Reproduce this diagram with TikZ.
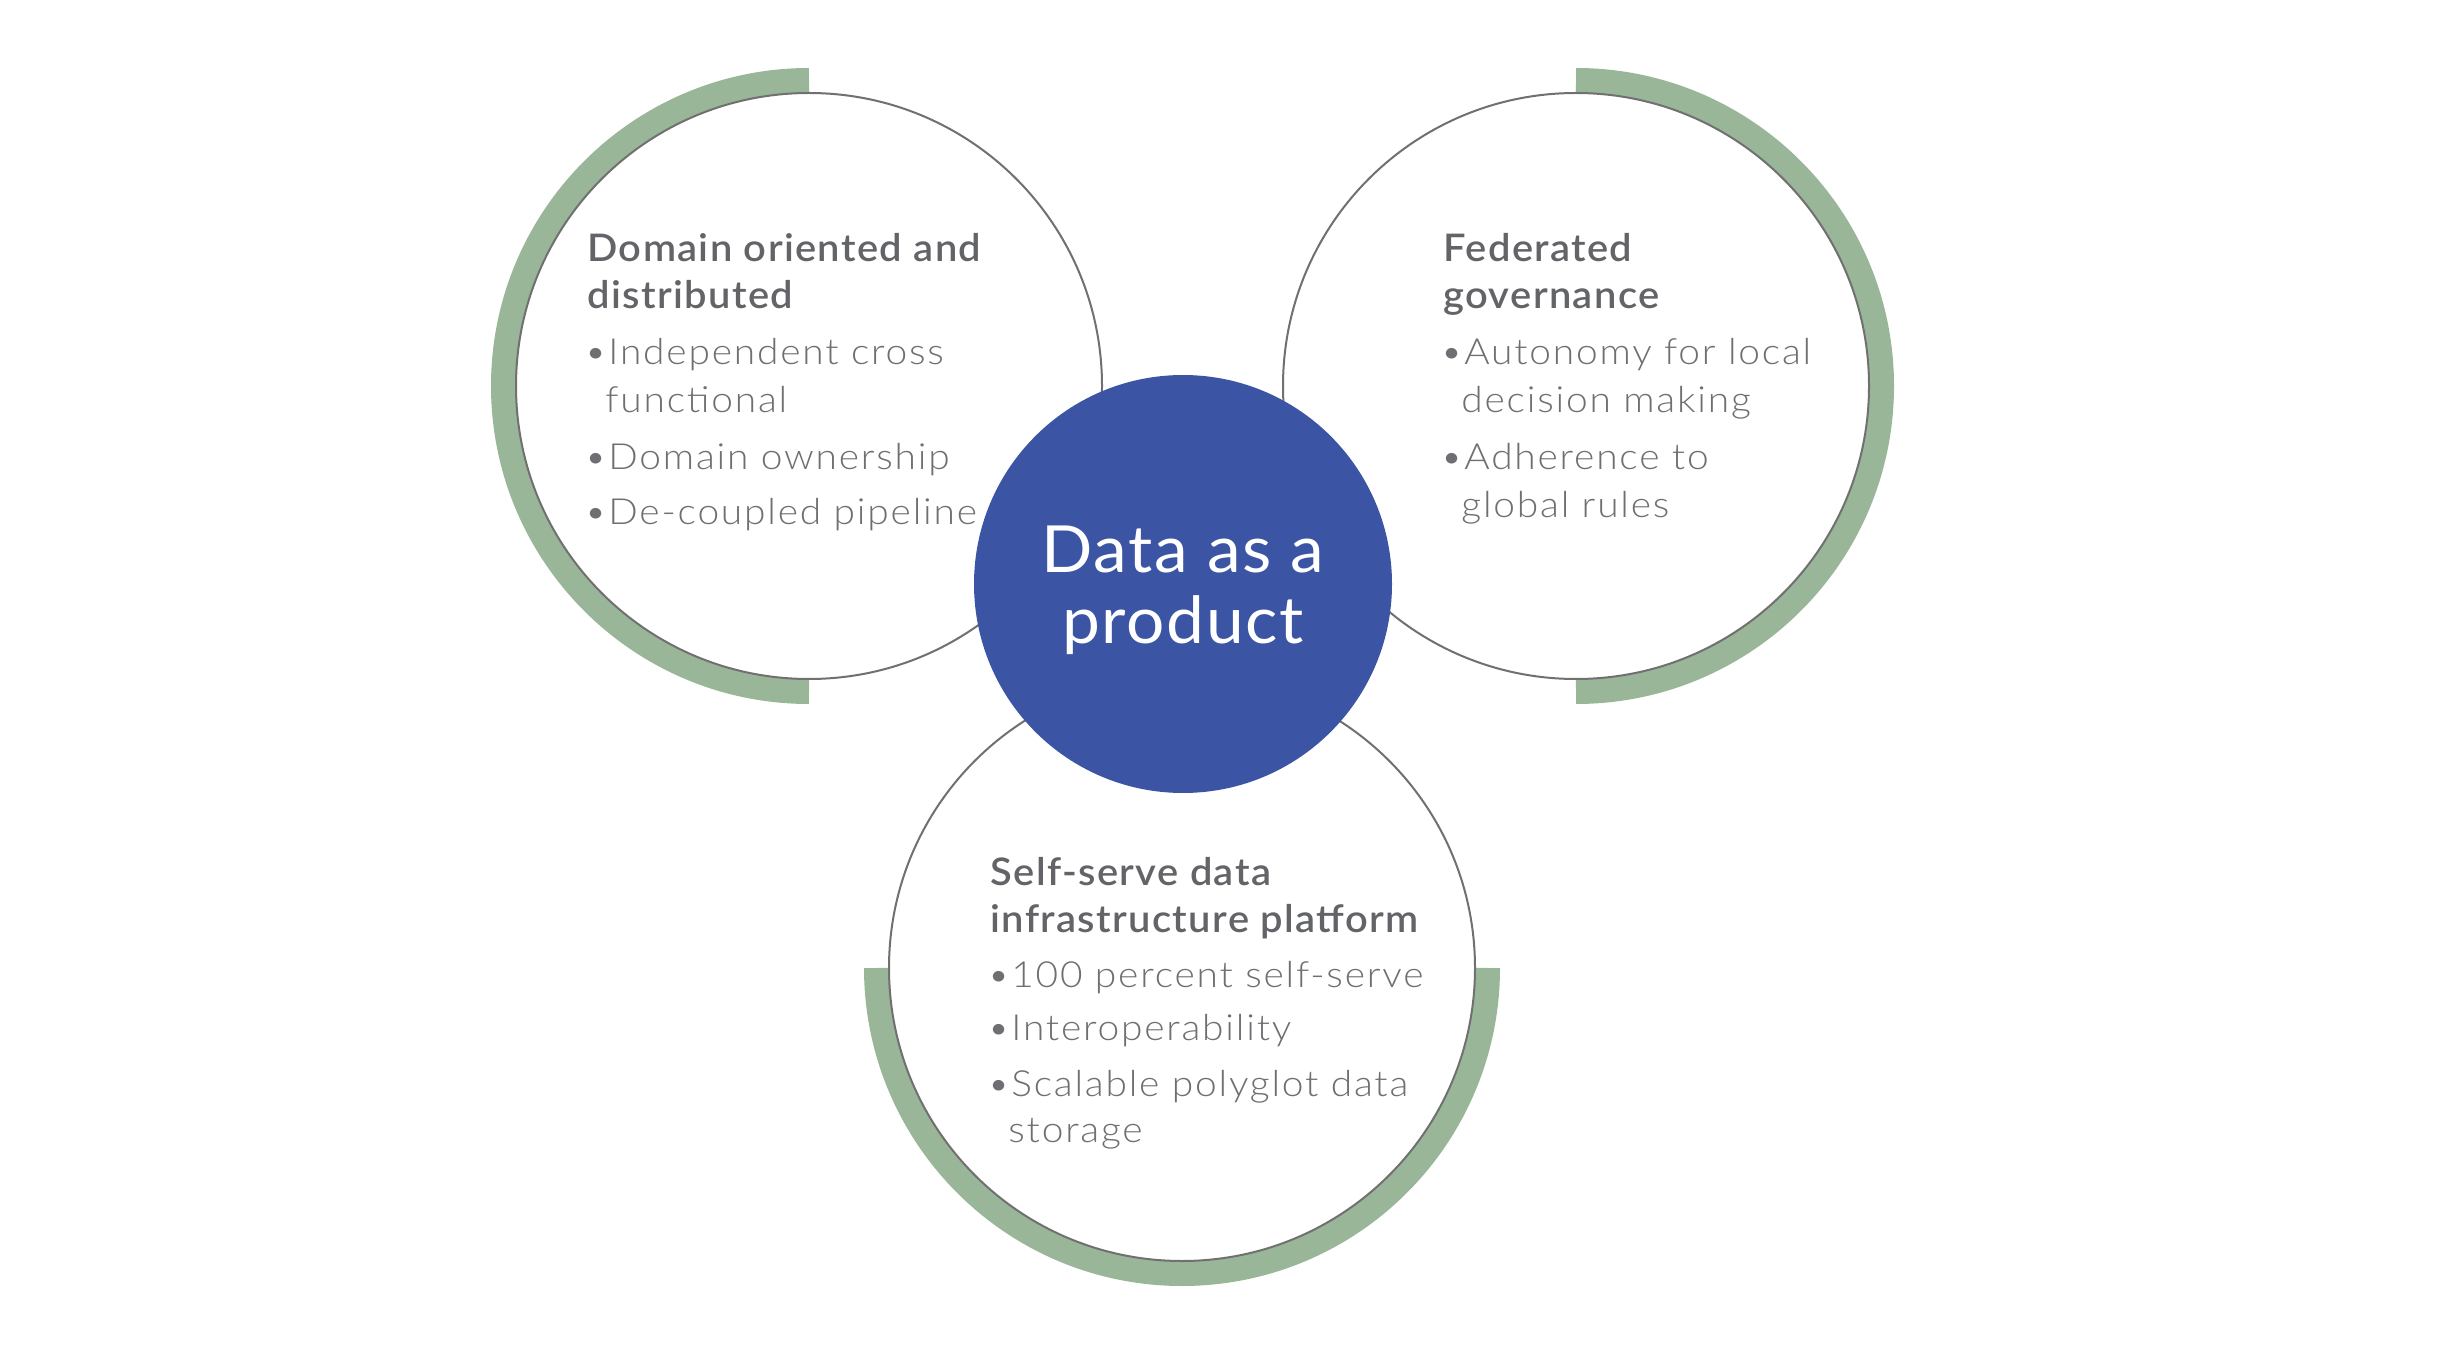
\documentclass[tikz,border=0pt]{standalone}
\usepackage{fontspec}
\setmainfont{Lato}
\newfontfamily\semif{Lato Semibold}[LetterSpace=3.6, FakeStretch=1.05]
\newfontfamily\lightf{Lato Light}[LetterSpace=5, FakeStretch=1.08]
\newfontfamily\regf{Lato}[LetterSpace=2.6, FakeStretch=1.04]
\definecolor{bandgreen}{HTML}{9AB698}
\definecolor{hubblue}{HTML}{3B55A4}
\definecolor{linegray}{HTML}{707070}
\definecolor{headgray}{HTML}{636468}
\definecolor{itemgray}{HTML}{6E6F72}
\newcommand\bul{\makebox[10.5pt][l]{\hspace*{-1.5pt}\textbullet}}
\newcommand\ind{\hspace*{9pt}}
\begin{document}
\begin{tikzpicture}[x=0.5pt,y=-0.5pt,
  ring/.style={circle, draw=linegray, line width=1pt, fill=white, minimum size=293pt, inner sep=0pt},
  band/.style={draw=bandgreen, line width=12.5pt},
  hub/.style={circle, fill=hubblue, minimum size=209pt, inner sep=0pt},
  hubtext/.style={inner sep=0pt, text=white, align=center,
    font=\regf\fontsize{32.5pt}{35.5pt}\selectfont},
  head/.style={anchor=base west, inner sep=0pt, text=headgray, font=\semif\fontsize{19pt}{23.5pt}\selectfont},
  item/.style={anchor=base west, inner sep=0pt, text=itemgray, font=\lightf\fontsize{18pt}{23.5pt}\selectfont}]
\useasboundingbox (0,0) rectangle (2459,1353);
\fill[white] (0,0) rectangle (2459,1353);
% anchor coordinates for the three outer circles
\coordinate (cl) at (809,386);
\coordinate (cr) at (1576,386);
\coordinate (cb) at (1182,968);
% green bands
\draw[band] (cl) ++(90:152.75pt) arc[start angle=90, end angle=270, radius=152.75pt];
\draw[band] (cr) ++(90:152.75pt) arc[start angle=90, end angle=-90, radius=152.75pt];
\draw[band] (cb) ++(180:152.75pt) arc[start angle=180, end angle=360, radius=152.75pt];
% outer circles
\node[ring] (L) at (cl) {};
\node[ring] (R) at (cr) {};
\node[ring] (B) at (cb) {};
% hub
\node[hub] (C) at (1183,584) {};
\node[hubtext] (Ct) at (1183,590) {Data as a\\product};
% left texts
\node[head] (l1) at (587,262) {Domain oriented and};
\node[head] (l2) at (587,309) {distributed};
\node[item] (l3) at (587,365) {\bul Independent cross};
\node[item] (l4) at (587,413) {\ind functional};
\node[item] (l5) at (587,470) {\bul Domain ownership};
\node[item] (l6) at (587,524) {\bul De-coupled pipeline};
% right texts
\node[head] (r1) at (1443,262) {Federated};
\node[head] (r2) at (1443,309) {governance};
\node[item] (r3) at (1443,365) {\bul Autonomy for local};
\node[item] (r4) at (1443,413) {\ind decision making};
\node[item] (r5) at (1443,470) {\bul Adherence to};
\node[item] (r6) at (1443,518) {\ind global rules};
% bottom texts
\node[head] (b1) at (990,885) {Self-serve data};
\node[head] (b2) at (990,932) {infrastructure platform};
\node[item] (b3) at (990,987) {\bul 100 percent self-serve};
\node[item] (b4) at (990,1040) {\bul Interoperability};
\node[item] (b5) at (990,1096) {\bul Scalable polyglot data};
\node[item] (b6) at (990,1142) {\ind storage};
\end{tikzpicture}
\end{document}
